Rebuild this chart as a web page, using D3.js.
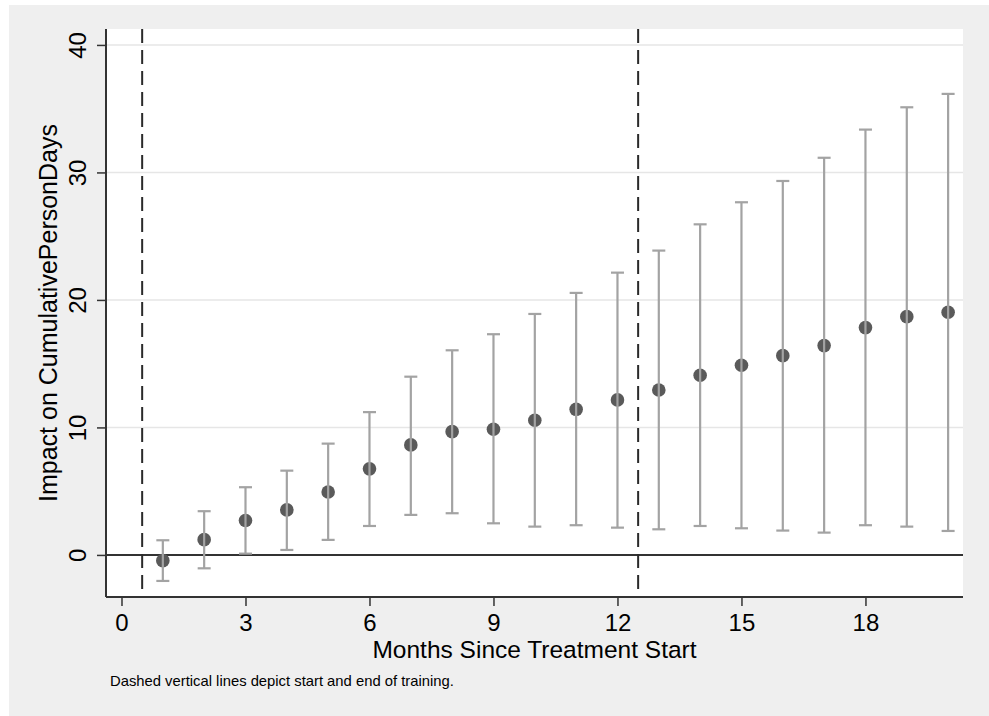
<!DOCTYPE html>
<html>
<head>
<meta charset="utf-8">
<script src="https://cdn.jsdelivr.net/npm/d3@7"></script>
<style>
  html, body { margin: 0; padding: 0; background: #fff; }
  svg { display: block; font-family: "Liberation Sans", Arial, sans-serif; }
</style>
</head>
<body>
<div id="chart"></div>
<script>
// Point estimates and 95% CI by month since treatment start
const months   = [1, 2, 3, 4, 5, 6, 7, 8, 9, 10, 11, 12, 13, 14, 15, 16, 17, 18, 19, 20];
const estimate = [-0.45, 1.2, 2.7, 3.53, 4.94, 6.75, 8.63, 9.67, 9.86, 10.56, 11.42, 12.16, 12.94, 14.09, 14.88, 15.63, 16.42, 17.83, 18.69, 19.03];
const ciUpper  = [1.15, 3.43, 5.31, 6.61, 8.73, 11.2, 13.98, 16.05, 17.31, 18.9, 20.55, 22.14, 23.87, 25.93, 27.66, 29.33, 31.15, 33.36, 35.11, 36.16];
const ciLower  = [-2.04, -1.05, 0.1, 0.39, 1.18, 2.27, 3.14, 3.27, 2.48, 2.22, 2.33, 2.14, 2.01, 2.27, 2.09, 1.91, 1.75, 2.33, 2.22, 1.88];

const xTicks = [0, 3, 6, 9, 12, 15, 18];
const yTicks = [0, 10, 20, 30, 40];
const trainingLines = [0.5, 12.5];

const W = 989, H = 716;
const plot = { left: 106, right: 963, top: 29, bottom: 597 };
const FONT = '"Liberation Sans", Arial, sans-serif';

const svg = d3.select('#chart').append('svg')
  .attr('width', W).attr('height', H);

// graph region (light gray)
svg.append('rect').attr('x', 9).attr('y', 5)
  .attr('width', W - 9).attr('height', H - 5).attr('fill', '#efefef');

// plot region
svg.append('rect')
  .attr('x', plot.left).attr('y', plot.top)
  .attr('width', plot.right - plot.left).attr('height', plot.bottom - plot.top)
  .attr('fill', '#fff');

const x = d3.scaleLinear().domain([-0.375, 20.36]).range([plot.left, plot.right]);
const y = d3.scaleLinear().domain([-3.3, 41.25]).range([plot.bottom, plot.top]);

// gridlines
svg.append('g').selectAll('line')
  .data(yTicks.filter(d => d !== 0))
  .join('line')
  .attr('x1', plot.left).attr('x2', plot.right)
  .attr('y1', d => y(d)).attr('y2', d => y(d))
  .attr('stroke', '#e6e6e6').attr('stroke-width', 1.5);

// zero line
svg.append('line')
  .attr('x1', plot.left).attr('x2', plot.right)
  .attr('y1', y(0)).attr('y2', y(0))
  .attr('stroke', '#333').attr('stroke-width', 2);

// dashed lines: start / end of training
svg.append('g').selectAll('line')
  .data(trainingLines)
  .join('line')
  .attr('x1', d => x(d)).attr('x2', d => x(d))
  .attr('y1', plot.top).attr('y2', plot.bottom)
  .attr('stroke', '#2a2a2a').attr('stroke-width', 2)
  .attr('stroke-dasharray', '14,7');

const pts = months.map((m, i) => ({ m, est: estimate[i], lo: ciLower[i], hi: ciUpper[i] }));

// point estimates
svg.append('g').selectAll('circle')
  .data(pts)
  .join('circle')
  .attr('cx', d => x(d.m)).attr('cy', d => y(d.est))
  .attr('r', 6.8)
  .attr('fill', '#5a5a5a');

// CI bars with caps
const bars = svg.append('g')
  .attr('stroke', '#a3a3a3').attr('stroke-width', 2.2).attr('fill', 'none');
bars.selectAll('.ci').data(pts).join('line').attr('class', 'ci')
  .attr('x1', d => x(d.m)).attr('x2', d => x(d.m))
  .attr('y1', d => y(d.lo)).attr('y2', d => y(d.hi));
bars.selectAll('.cap-hi').data(pts).join('line').attr('class', 'cap-hi')
  .attr('x1', d => x(d.m) - 6.5).attr('x2', d => x(d.m) + 6.5)
  .attr('y1', d => y(d.hi)).attr('y2', d => y(d.hi));
bars.selectAll('.cap-lo').data(pts).join('line').attr('class', 'cap-lo')
  .attr('x1', d => x(d.m) - 6.5).attr('x2', d => x(d.m) + 6.5)
  .attr('y1', d => y(d.lo)).attr('y2', d => y(d.lo));

// x axis
const xAxis = svg.append('g')
  .attr('transform', `translate(0,${plot.bottom})`)
  .call(d3.axisBottom(x).tickValues(xTicks).tickSize(9).tickPadding(8).tickSizeOuter(0));
xAxis.select('.domain').attr('stroke', '#333').attr('stroke-width', 2)
  .attr('d', `M${plot.left},0H${plot.right}`);
xAxis.selectAll('.tick line').attr('stroke', '#333').attr('stroke-width', 1.5);
xAxis.selectAll('.tick text')
  .attr('fill', '#000').attr('font-size', '24px').attr('font-family', FONT);

// y axis
const yAxis = svg.append('g')
  .attr('transform', `translate(${plot.left},0)`)
  .call(d3.axisLeft(y).tickValues(yTicks).tickSize(9).tickSizeOuter(0));
yAxis.select('.domain').attr('stroke', '#333').attr('stroke-width', 2)
  .attr('d', `M0,${plot.top}V${plot.bottom}`);
yAxis.selectAll('.tick line').attr('stroke', '#333').attr('stroke-width', 1.5);
yAxis.selectAll('.tick text')
  .attr('x', null).attr('dy', null)
  .attr('transform', 'translate(-20,0) rotate(-90)')
  .attr('text-anchor', 'middle')
  .attr('fill', '#000').attr('font-size', '24px').attr('font-family', FONT);

// axis titles
svg.append('text')
  .attr('x', (plot.left + plot.right) / 2).attr('y', 658)
  .attr('text-anchor', 'middle').attr('font-size', '24.5px').attr('fill', '#000')
  .text('Months Since Treatment Start');

svg.append('text')
  .attr('transform', `translate(57,${(plot.top + plot.bottom) / 2}) rotate(-90)`)
  .attr('text-anchor', 'middle').attr('font-size', '25px').attr('fill', '#000')
  .text('Impact on CumulativePersonDays');

// note
svg.append('text')
  .attr('x', 110).attr('y', 686)
  .attr('font-size', '14.8px').attr('fill', '#000')
  .text('Dashed vertical lines depict start and end of training.');
</script>
</body>
</html>
